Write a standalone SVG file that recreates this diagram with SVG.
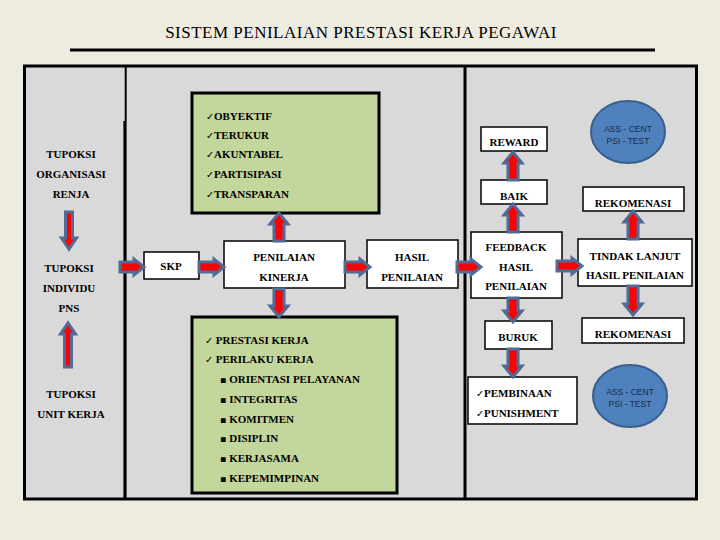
<svg xmlns="http://www.w3.org/2000/svg" width="720" height="540" viewBox="0 0 720 540">
<style>
.t{font-family:"Liberation Serif","DejaVu Serif",serif;font-weight:bold;font-size:11px;fill:#000}
.c{text-anchor:middle}
.ck{font-family:"DejaVu Sans",sans-serif;font-size:9.5px;font-weight:normal}
.bx{fill:#fff;stroke:#000;stroke-width:1.5}
.gr{fill:#C3D69B;stroke:#000;stroke-width:3}
.ar{fill:#FF0000;stroke:#4F6B96;stroke-width:3;stroke-linejoin:miter}
.el{fill:#4F81BD;stroke:#3A5F8C;stroke-width:2}
.et{font-family:"Liberation Sans",Arial,sans-serif;font-size:8.5px;fill:#1B2A47;text-anchor:middle}
</style>
<rect width="720" height="540" fill="#EEECE1"/>
<g id="title">
<text x="361" y="38" text-anchor="middle" font-family="Liberation Serif, serif" font-size="17" letter-spacing="0.5">SISTEM PENILAIAN PRESTASI KERJA PEGAWAI</text>
<line x1="70" y1="50" x2="655" y2="50" stroke="#000" stroke-width="3"/>
</g>
<g id="frame">
<rect x="24.5" y="66" width="672" height="433" fill="#D9D9D9" stroke="#000" stroke-width="3"/>
<line x1="125.7" y1="66" x2="125.7" y2="121" stroke="#000" stroke-width="2"/>
<line x1="125" y1="121" x2="125" y2="499" stroke="#000" stroke-width="3.2"/>
<line x1="465" y1="66" x2="465" y2="499" stroke="#000" stroke-width="3"/>
</g>
<g id="tupoksi-organisasi">
<text class="t c" x="71" y="158">TUPOKSI</text>
<text class="t c" x="71" y="178">ORGANISASI</text>
<text class="t c" x="71" y="198">RENJA</text>
</g>
<g id="tupoksi-individu">
<text class="t c" x="69" y="272">TUPOKSI</text>
<text class="t c" x="69" y="292">INDIVIDU</text>
<text class="t c" x="69" y="312">PNS</text>
</g>
<g id="tupoksi-unit">
<text class="t c" x="71" y="398">TUPOKSI</text>
<text class="t c" x="71" y="418">UNIT KERJA</text>
</g>
<g id="prinsip">
<rect class="gr" x="192" y="93" width="187" height="120"/>
<text class="t" x="206" y="120"><tspan class="ck">✓</tspan>OBYEKTIF</text>
<text class="t" x="206" y="139"><tspan class="ck">✓</tspan>TERUKUR</text>
<text class="t" x="206" y="158"><tspan class="ck">✓</tspan>AKUNTABEL</text>
<text class="t" x="206" y="178"><tspan class="ck">✓</tspan>PARTISIPASI</text>
<text class="t" x="206" y="198"><tspan class="ck">✓</tspan>TRANSPARAN</text>
</g>
<g id="skp">
<rect class="bx" x="144" y="252" width="55" height="27"/>
<text class="t c" x="171" y="270">SKP</text>
</g>
<g id="penilaian-kinerja">
<rect class="bx" x="224" y="241" width="121" height="47"/>
<text class="t c" x="284" y="261">PENILAIAN</text>
<text class="t c" x="284" y="281">KINERJA</text>
</g>
<g id="hasil-penilaian">
<rect class="bx" x="367" y="240" width="91" height="48"/>
<text class="t c" x="412" y="261">HASIL</text>
<text class="t c" x="412" y="281">PENILAIAN</text>
</g>
<g id="unsur">
<rect class="gr" x="192" y="317" width="205" height="176"/>
<text class="t" x="205" y="344"><tspan class="ck">✓</tspan> PRESTASI KERJA</text>
<text class="t" x="205" y="363"><tspan class="ck">✓</tspan> PERILAKU KERJA</text>
<g class="t">
<text x="220" y="383"><tspan class="ck">▪</tspan>  ORIENTASI PELAYANAN</text>
<text x="220" y="403"><tspan class="ck">▪</tspan>  INTEGRITAS</text>
<text x="220" y="423"><tspan class="ck">▪</tspan>  KOMITMEN</text>
<text x="220" y="442"><tspan class="ck">▪</tspan>  DISIPLIN</text>
<text x="220" y="462"><tspan class="ck">▪</tspan>  KERJASAMA</text>
<text x="220" y="482"><tspan class="ck">▪</tspan>  KEPEMIMPINAN</text>
</g>
</g>
<g id="feedback">
<rect class="bx" x="471" y="232" width="91" height="66"/>
<text class="t c" x="516" y="251">FEEDBACK</text>
<text class="t c" x="516" y="271">HASIL</text>
<text class="t c" x="516" y="290">PENILAIAN</text>
</g>
<g id="baik">
<rect class="bx" x="481" y="180" width="66" height="24"/>
<text class="t c" x="514" y="200">BAIK</text>
</g>
<g id="reward">
<rect class="bx" x="481" y="127" width="66" height="24"/>
<text class="t c" x="514" y="146">REWARD</text>
</g>
<g id="buruk">
<rect class="bx" x="485" y="321" width="67" height="28"/>
<text class="t c" x="518" y="341">BURUK</text>
</g>
<g id="pembinaan">
<rect class="bx" x="468" y="377" width="109" height="47"/>
<text class="t" x="476" y="397"><tspan class="ck">✓</tspan>PEMBINAAN</text>
<text class="t" x="476" y="417"><tspan class="ck">✓</tspan>PUNISHMENT</text>
</g>
<g id="tindak-lanjut">
<rect class="bx" x="578" y="239" width="114" height="47"/>
<text class="t c" x="635" y="260">TINDAK LANJUT</text>
<text class="t c" x="635" y="279">HASIL PENILAIAN</text>
</g>
<g id="rekomenasi-atas">
<rect class="bx" x="583" y="187" width="101" height="24"/>
<text class="t c" x="633" y="207">REKOMENASI</text>
</g>
<g id="rekomenasi-bawah">
<rect class="bx" x="582" y="318" width="102" height="25"/>
<text class="t c" x="633" y="338">REKOMENASI</text>
</g>
<g id="asscent-atas">
<ellipse class="el" cx="628" cy="132" rx="37" ry="31"/>
<text class="et" x="628" y="132">ASS - CENT</text>
<text class="et" x="628" y="144">PSI - TEST</text>
</g>
<g id="asscent-bawah">
<ellipse class="el" cx="630" cy="396" rx="37" ry="31"/>
<text class="et" x="630" y="395">ASS - CENT</text>
<text class="et" x="630" y="407">PSI - TEST</text>
</g>
<g id="connectors">
<polygon class="ar" points="65.5,212 65.5,238 61.5,238 69,249 76.5,238 72.5,238 72.5,212"/>
<polygon class="ar" points="64.5,367 64.5,334 60.5,334 68,323 75.5,334 71.5,334 71.5,367"/>
<polygon class="ar" points="120,262 134,262 134,259 144,267 134,275 134,272 120,272"/>
<polygon class="ar" points="199,262 214,262 214,259 224,267 214,275 214,272 199,272"/>
<polygon class="ar" points="345,262 360,262 360,259 370,267 360,275 360,272 345,272"/>
<polygon class="ar" points="457,262 471,262 471,259 481,267 471,275 471,272 457,272"/>
<polygon class="ar" points="557,261 572,261 572,258 582,266 572,274 572,271 557,271"/>
<polygon class="ar" points="274,241 274,224 270,224 279,213 288,224 284,224 284,241"/>
<polygon class="ar" points="274,289 274,306 270,306 279,317 288,306 284,306 284,289"/>
<polygon class="ar" points="508,232 508,215 504,215 513,204 522,215 518,215 518,232"/>
<polygon class="ar" points="508,180 508,163 504,163 513,152 522,163 518,163 518,180"/>
<polygon class="ar" points="508,298 508,311 504,311 513,322 522,311 518,311 518,298"/>
<polygon class="ar" points="508,349 508,366 504,366 513,377 522,366 518,366 518,349"/>
<polygon class="ar" points="628,239 628,222 624,222 633,211 642,222 638,222 638,239"/>
<polygon class="ar" points="628,286 628,304 624,304 633,315 642,304 638,304 638,286"/>
</g>
</svg>
